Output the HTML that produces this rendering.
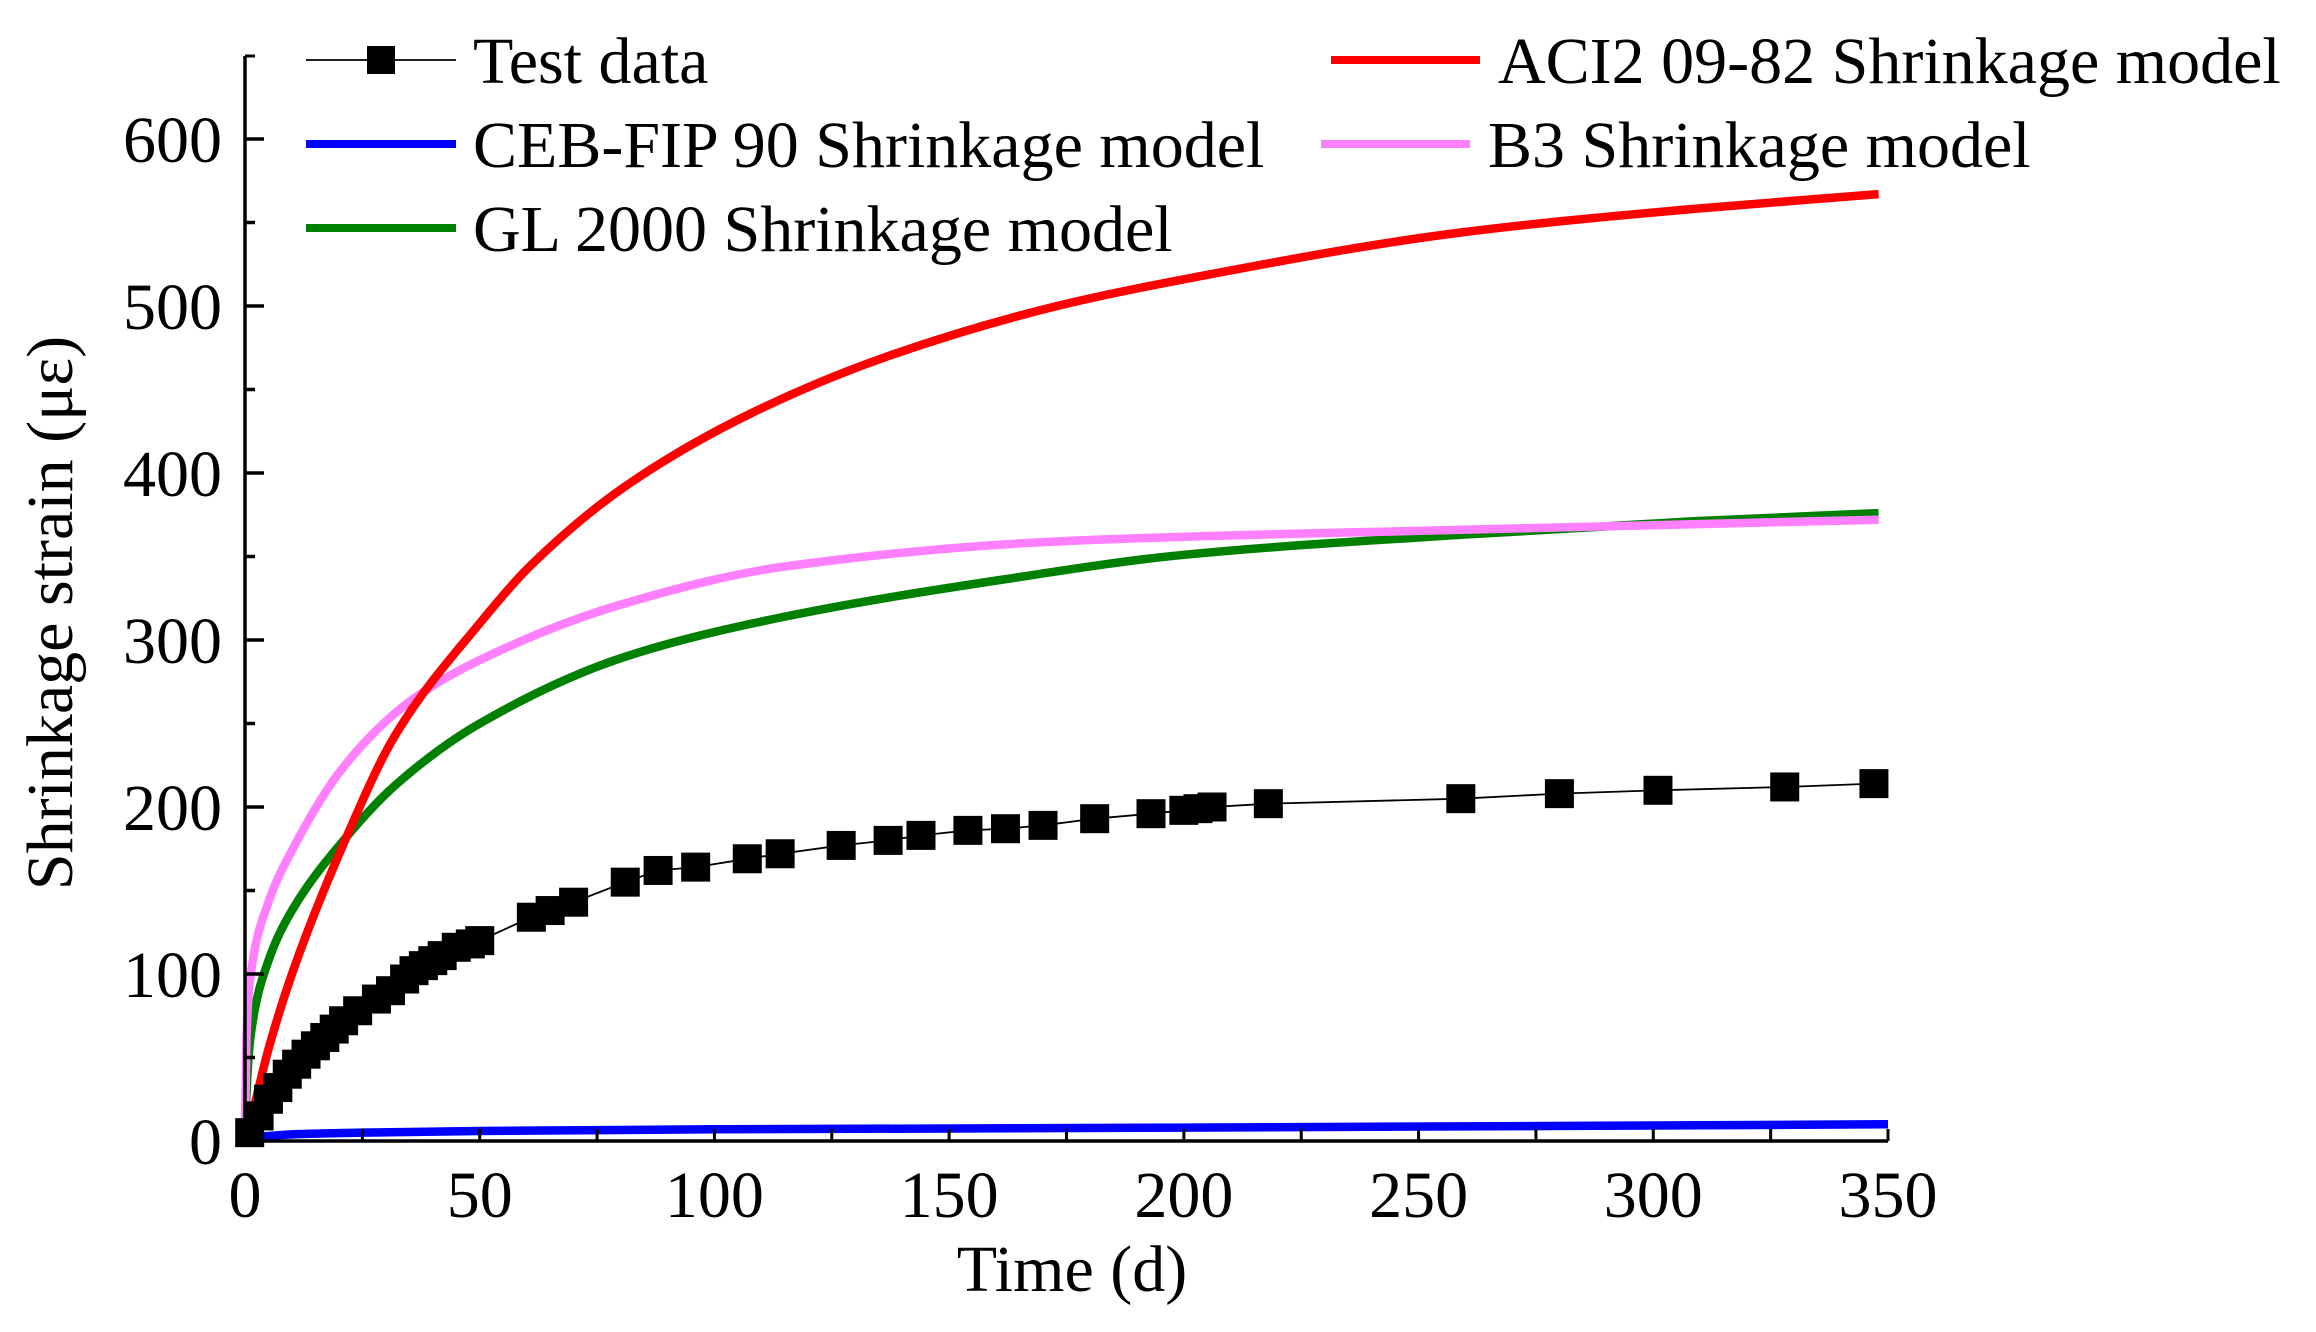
<!DOCTYPE html>
<html><head><meta charset="utf-8"><style>
html,body{margin:0;padding:0;background:#fff;}
svg{display:block;font-family:"Liberation Serif","DejaVu Serif",serif;}
</style></head><body>
<svg id="chart" width="2316" height="1332" viewBox="0 0 2316 1332" xmlns="http://www.w3.org/2000/svg">
<g id="plot"></g>
<g id="axes"></g>
<text x="0" y="0" transform="translate(72,613) rotate(-90)" text-anchor="middle" font-size="66">Shrinkage strain (με)</text>
<text x="1072" y="1291" text-anchor="middle" font-size="66">Time (d)</text>
<g id="legend">
  <g>
    <line x1="306" y1="60" x2="456" y2="60" stroke="#000" stroke-width="1.8"/>
    <rect x="367" y="46" width="28" height="28" fill="#000"/>
    <text x="473" y="83" font-size="66">Test data</text>
  </g>
  <g>
    <line x1="306" y1="144" x2="456" y2="144" stroke="#0000ff" stroke-width="8"/>
    <text x="473" y="167" font-size="66">CEB-FIP 90 Shrinkage model</text>
  </g>
  <g>
    <line x1="306" y1="228" x2="456" y2="228" stroke="#008000" stroke-width="8"/>
    <text x="473" y="251" font-size="66">GL 2000 Shrinkage model</text>
  </g>
  <g>
    <line x1="1331" y1="60" x2="1480" y2="60" stroke="#ff0000" stroke-width="8"/>
    <text x="1498" y="83" font-size="66">ACI2 09-82 Shrinkage model</text>
  </g>
  <g>
    <line x1="1321" y1="144" x2="1470" y2="144" stroke="#ff80ff" stroke-width="8"/>
    <text x="1488" y="167" font-size="66">B3 Shrinkage model</text>
  </g>
</g>
</svg>
<script>
const testDays = [1,3,5,7,9,11,13,15,17,19,21,24,28,31,34,36,38,40,42,45,48,50,61,65,70,81,88,96,107,114,127,137,144,154,162,170,181,193,200,203,206,218,259,280,301,328,347];
const testVals = [5,15,25,32,40,46,52,57,62,67,72,78,85,90,97,102,105,108,111,116,118,120,134,138,143,155,162,164,169,172,177,180,183,186,187,189,193,196,198,199,200,202,205,208,210,212,214];
const aciDays = [0,1,5,10,21,32,50,61,81,108,137,173,200,259,308,348];
const aciVals = [0,10,55,100,178,243,310,345,392,436,470,500,516,544,558,567];
const b3Days = [0,0.3,1,5,10,21,35,50,81,115,173,259,348];
const b3Vals = [0,60,95,143,174,224,263,288,322,344,359,366,372];
const glDays = [0,0.2,1.2,5,10,21,32,50,81,115,161,200,259,308,348];
const glVals = [0,21,63,108,138,180,213,250,290,314,336,351,363,371,376];
const cebDays = [0,2,5,10,25,50,100,200,350];
const cebVals = [0,2,3,4,5,6,7,8,10];
const xTicks = [0,50,100,150,200,250,300,350];
const yTicks = [0,100,200,300,400,500,600];

const X0=245, X1=1888, Y0=1141, YT=56;
const xs = d => X0 + d*(X1-X0)/350;
const ys = v => Y0 - v*1.67;
const NS="http://www.w3.org/2000/svg";
const plot=document.getElementById('plot'), axes=document.getElementById('axes');
function mk(tag, attrs, parent){const e=document.createElementNS(NS,tag);for(const k in attrs)e.setAttribute(k,attrs[k]);parent.appendChild(e);return e;}
function path(days, vals){return days.map((d,i)=>(i?'L':'M')+xs(d).toFixed(1)+' '+ys(vals[i]).toFixed(1)).join(' ');}
function smooth(days, vals){
  // monotone cubic (Fritsch-Carlson) in pixel space
  const x=days.map(xs), y=vals.map(ys), n=x.length;
  const dl=[], m=new Array(n);
  for(let i=0;i<n-1;i++) dl.push((y[i+1]-y[i])/(x[i+1]-x[i]));
  m[0]=dl[0]; m[n-1]=dl[n-2];
  for(let i=1;i<n-1;i++){
    if(dl[i-1]*dl[i]<=0) m[i]=0;
    else { const h0=x[i]-x[i-1], h1=x[i+1]-x[i];
      m[i]=3*(h0+h1)/((2*h1+h0)/dl[i-1]+(h1+2*h0)/dl[i]); }
  }
  let s='M'+x[0].toFixed(1)+' '+y[0].toFixed(1);
  for(let i=0;i<n-1;i++){
    const h=(x[i+1]-x[i])/3;
    s+=' C'+(x[i]+h).toFixed(2)+' '+(y[i]+m[i]*h).toFixed(2)+' '+(x[i+1]-h).toFixed(2)+' '+(y[i+1]-m[i+1]*h).toFixed(2)+' '+x[i+1].toFixed(2)+' '+y[i+1].toFixed(2);
  }
  return s;
}
let e;
e=mk('path',{d:smooth(cebDays,cebVals),fill:'none',stroke:'#0000ff','stroke-width':8.5,'stroke-linejoin':'round'},plot);


e=mk('path',{d:smooth(glDays,glVals),fill:'none',stroke:'#008000','stroke-width':8.5,'stroke-linejoin':'round'},plot);


e=mk('path',{d:smooth(b3Days,b3Vals),fill:'none',stroke:'#ff80ff','stroke-width':8.5,'stroke-linejoin':'round'},plot);


e=mk('path',{d:smooth(aciDays,aciVals),fill:'none',stroke:'#ff0000','stroke-width':8.5,'stroke-linejoin':'round'},plot);


e=mk('path',{d:path(testDays,testVals),fill:'none',stroke:'#000','stroke-width':1.8},plot);


testDays.forEach((d,i)=>{
  const r=mk('rect',{x:xs(d)-14.5,y:ys(testVals[i])-14.5,width:29,height:29,fill:'#000'},plot);
  
  
});
e=mk('path',{d:`M${X0} ${YT} L${X0} ${Y0} L${X1} ${Y0}`,fill:'none',stroke:'#000','stroke-width':3.5},axes);


mk('line',{x1:X0,y1:YT,x2:X0+10,y2:YT,stroke:'#000','stroke-width':3},axes);
mk('line',{x1:X1,y1:Y0,x2:X1,y2:Y0-12,stroke:'#000','stroke-width':3},axes);
for(let v=50; v<=600; v+=50){
  const major = v%100===0;
  mk('line',{x1:X0,y1:ys(v),x2:X0+(major?19:10),y2:ys(v),stroke:'#000','stroke-width':3.5},axes);
}
for(let d=25; d<350; d+=25){
  mk('line',{x1:xs(d),y1:Y0,x2:xs(d),y2:Y0-12,stroke:'#000','stroke-width':3},axes);
}
yTicks.forEach(v=>{
  const t=mk('text',{x:222,y:ys(v)+23,'text-anchor':'end','font-size':66},axes);
  t.textContent=v;
  
  
});
xTicks.forEach(d=>{
  const t=mk('text',{x:xs(d),y:1217,'text-anchor':'middle','font-size':66},axes);
  t.textContent=d;
  
  
});
</script>
</body></html>
